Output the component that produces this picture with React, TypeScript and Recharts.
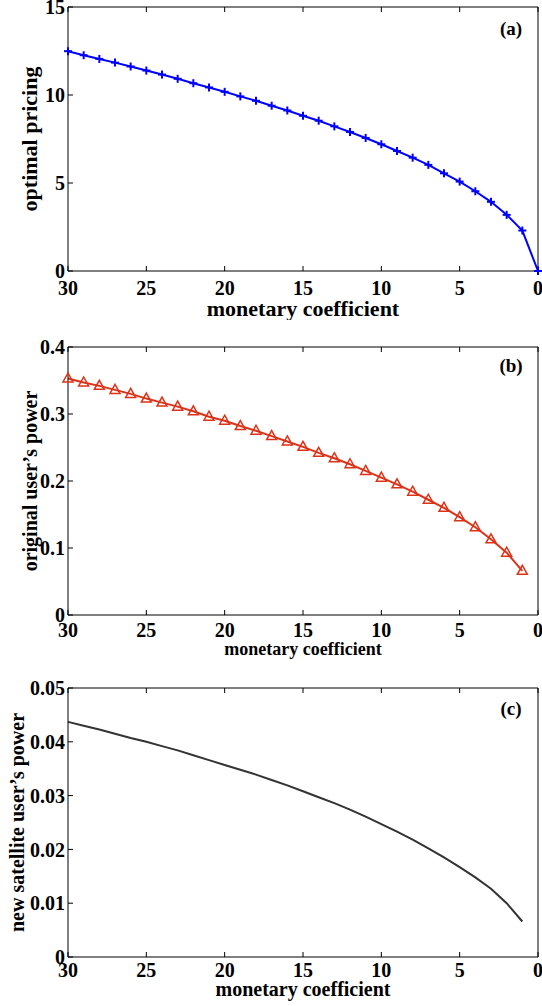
import { LineChart, Line, XAxis, YAxis, Label } from 'recharts';

const FONT = '"Liberation Serif", "Times New Roman", serif';

// monetary coefficient, plotted right-to-left
const coefAll = [30, 29, 28, 27, 26, 25, 24, 23, 22, 21, 20, 19, 18, 17, 16, 15, 14, 13, 12, 11, 10, 9, 8, 7, 6, 5, 4, 3, 2, 1, 0];
const coefPos = coefAll.slice(0, 30);
const xTicks = [30, 25, 20, 15, 10, 5, 0];

const pricing = [12.49, 12.26, 12.05, 11.84, 11.62, 11.39, 11.16, 10.92, 10.67, 10.43, 10.18, 9.92, 9.67, 9.39, 9.12, 8.82, 8.54, 8.22, 7.9, 7.56, 7.2, 6.82, 6.44, 6.03, 5.55, 5.08, 4.53, 3.93, 3.19, 2.3, 0];
const pricingTicks = [0, 5, 10, 15];

const origPower = [0.353, 0.347, 0.342, 0.336, 0.33, 0.323, 0.317, 0.311, 0.304, 0.296, 0.29, 0.282, 0.275, 0.267, 0.259, 0.251, 0.242, 0.234, 0.225, 0.215, 0.205, 0.195, 0.184, 0.172, 0.16, 0.146, 0.131, 0.113, 0.093, 0.066];
const origTicks = [0, 0.1, 0.2, 0.3, 0.4];

const satPower = [0.0437, 0.043, 0.0423, 0.0415, 0.0407, 0.04, 0.0392, 0.0384, 0.0375, 0.0366, 0.0357, 0.0348, 0.0339, 0.0329, 0.0319, 0.0308, 0.0297, 0.0286, 0.0274, 0.0261, 0.0247, 0.0233, 0.0218, 0.0202, 0.0185, 0.0167, 0.0148, 0.0127, 0.01, 0.0066];
const satTicks = [0, 0.01, 0.02, 0.03, 0.04, 0.05];

const pricingData = coefAll.map((x, i) => ({ x, y: pricing[i] }));
const origData = coefPos.map((x, i) => ({ x, y: origPower[i] }));
const satData = coefPos.map((x, i) => ({ x, y: satPower[i] }));

const PlusDot = (p: any) => {
  const { cx, cy } = p;
  if (cx == null || cy == null) return <g />;
  return (
    <g>
      <line x1={cx - 4} y1={cy} x2={cx + 4} y2={cy} stroke="#0000ff" strokeWidth={2} />
      <line x1={cx} y1={cy - 4} x2={cx} y2={cy + 4} stroke="#0000ff" strokeWidth={2} />
    </g>
  );
};

const TriDot = (p: any) => {
  const { cx, cy } = p;
  if (cx == null || cy == null) return <g />;
  return (
    <path
      d={`M${cx},${cy - 5.5} L${cx + 5},${cy + 3.5} L${cx - 5},${cy + 3.5} Z`}
      fill="none"
      stroke="#dc3218"
      strokeWidth={1.5}
    />
  );
};

const xTitle = (text: string, size: number, off: number) => (p: any) => {
  const vb = p.viewBox;
  return (
    <text x={vb.x + vb.width / 2} y={vb.y + off} textAnchor="middle" fontFamily={FONT} fontWeight={700} fontSize={size} fill="#000">
      {text}
    </text>
  );
};

const yTitle = (text: string, size: number, dx: number) => (p: any) => {
  const vb = p.viewBox;
  const cx = vb.x + vb.width - dx;
  const cy = vb.y + vb.height / 2;
  return (
    <text x={cx} y={cy} transform={`rotate(-90 ${cx} ${cy})`} textAnchor="middle" dominantBaseline="central" fontFamily={FONT} fontWeight={700} fontSize={size} fill="#000">
      {text}
    </text>
  );
};

const tag = (text: string, dy: number) => (p: any) => {
  const vb = p.viewBox;
  return (
    <text x={vb.x - 27} y={vb.y + dy} textAnchor="middle" fontFamily={FONT} fontWeight={700} fontSize={19} fill="#000">
      {text}
    </text>
  );
};

type PanelProps = {
  data: { x: number; y: number }[];
  top: number;
  height: number;
  margin: { top: number; right: number; left: number; bottom: number };
  yTicks: number[];
  ylabel: string;
  ylabelSize: number;
  ylabelDx: number;
  xlabelSize: number;
  xlabelOff: number;
  xTickMargin: number;
  tagText: string;
  tagDy: number;
  color: string;
  dot: any;
};

function Panel(props: PanelProps) {
  const tickStyle = { fill: '#000', fontSize: 20, fontFamily: FONT, fontWeight: 700 };
  const blank = () => '';
  const yMax = props.yTicks[props.yTicks.length - 1];
  return (
    <div style={{ position: 'absolute', left: 0, top: props.top }}>
      <LineChart width={542} height={props.height} data={props.data} margin={props.margin}>
        <XAxis
          xAxisId="b"
          dataKey="x"
          type="number"
          domain={[0, 30]}
          ticks={xTicks}
          reversed
          height={1}
          stroke="#000"
          tickSize={-5}
          tickMargin={props.xTickMargin}
          tick={tickStyle}
          interval={0}
        >
          <Label content={xTitle('monetary coefficient', props.xlabelSize, props.xlabelOff)} />
        </XAxis>
        <XAxis
          xAxisId="t"
          orientation="top"
          dataKey="x"
          type="number"
          domain={[0, 30]}
          ticks={xTicks}
          reversed
          height={1}
          stroke="#000"
          tickSize={-5}
          tickFormatter={blank}
          interval={0}
        />
        <YAxis
          yAxisId="l"
          type="number"
          domain={[0, yMax]}
          ticks={props.yTicks}
          width={1}
          stroke="#000"
          tickSize={-5}
          tickMargin={8}
          tick={tickStyle}
          interval={0}
        >
          <Label content={yTitle(props.ylabel, props.ylabelSize, props.ylabelDx)} />
        </YAxis>
        <YAxis
          yAxisId="r"
          orientation="right"
          type="number"
          domain={[0, yMax]}
          ticks={props.yTicks}
          width={1}
          stroke="#000"
          tickSize={-5}
          tickFormatter={blank}
          interval={0}
        >
          <Label content={tag(props.tagText, props.tagDy)} />
        </YAxis>
        <Line
          xAxisId="b"
          yAxisId="l"
          type="linear"
          dataKey="y"
          stroke={props.color}
          strokeWidth={2}
          dot={props.dot}
          activeDot={false}
          isAnimationActive={false}
        />
      </LineChart>
    </div>
  );
}

export default function App() {
  return (
    <div style={{ position: 'absolute', left: 0, top: 0, width: 542, height: 1006, background: '#fff' }}>
      <Panel
        data={pricingData}
        top={0}
        height={320}
        margin={{ top: 6, right: 3, left: 67, bottom: 48 }}
        yTicks={pricingTicks}
        ylabel="optimal pricing"
        ylabelSize={22}
        ylabelDx={39}
        xlabelSize={22}
        xlabelOff={45}
        xTickMargin={15}
        tagText="(a)"
        tagDy={28}
        color="#0000ff"
        dot={PlusDot}
      />
      <Panel
        data={origData}
        top={320}
        height={340}
        margin={{ top: 26, right: 3, left: 67, bottom: 44 }}
        yTicks={origTicks}
        ylabel="original user’s power"
        ylabelSize={20}
        ylabelDx={38}
        xlabelSize={18}
        xlabelOff={40}
        xTickMargin={13}
        tagText="(b)"
        tagDy={25}
        color="#dc3218"
        dot={TriDot}
      />
      <Panel
        data={satData}
        top={660}
        height={346}
        margin={{ top: 27, right: 3, left: 67, bottom: 48 }}
        yTicks={satTicks}
        ylabel="new satellite user’s power"
        ylabelSize={20}
        ylabelDx={51}
        xlabelSize={20}
        xlabelOff={39}
        xTickMargin={11}
        tagText="(c)"
        tagDy={27}
        color="#333333"
        dot={false}
      />
    </div>
  );
}
